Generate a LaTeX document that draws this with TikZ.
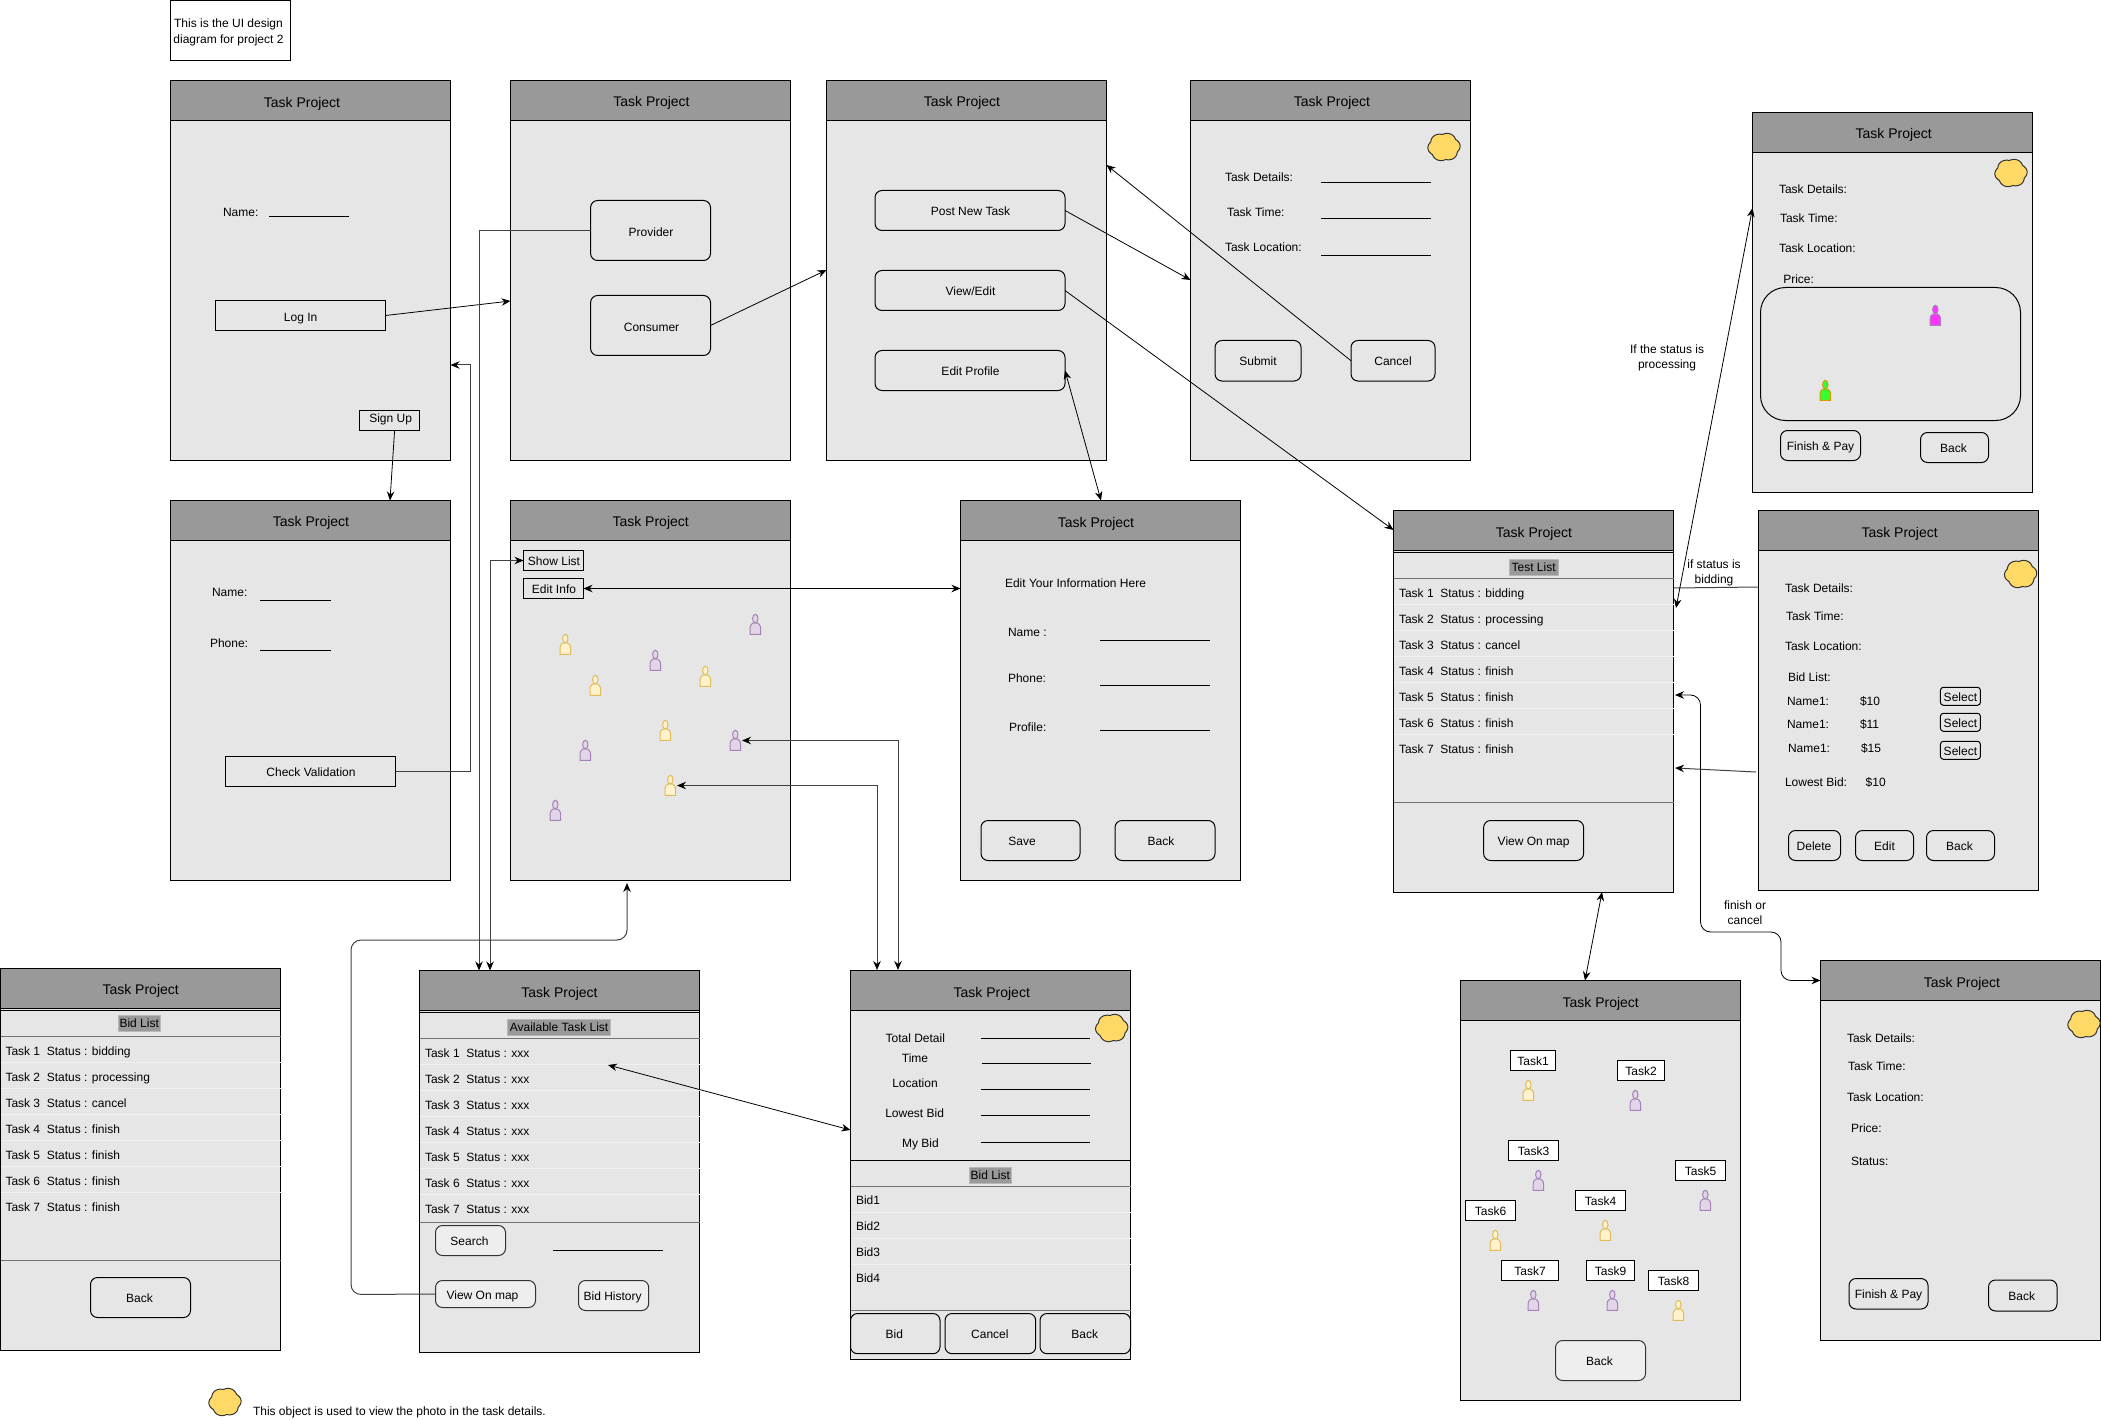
\documentclass[tikz,border=0pt]{standalone}
\usepackage{fontspec}
\setmainfont{Liberation Sans}
\usetikzlibrary{arrows.meta}
\definecolor{bodyc}{HTML}{E6E6E6}
\definecolor{headc}{HTML}{999999}
\definecolor{btnlt}{HTML}{EEEEEE}
\definecolor{cloudc}{HTML}{FFD966}
\definecolor{yfill}{HTML}{FFF2CC}
\definecolor{ydraw}{HTML}{E0BC5A}
\definecolor{pfill}{HTML}{E1D5E7}
\definecolor{pdraw}{HTML}{A583B8}
\definecolor{mfill}{HTML}{FF33FF}
\definecolor{gfill}{HTML}{33FF33}
\definecolor{odraw}{HTML}{D79B00}
\tikzset{
  txt/.style={inner sep=0pt,outer sep=0pt,text height=11.5pt,text depth=1.5pt,font=\fontsize{12pt}{15pt}\selectfont},
  ttl/.style={inner sep=0pt,outer sep=0pt,text height=12pt,text depth=2pt,font=\fontsize{14pt}{17pt}\selectfont},
  scrbody/.style={draw=black,fill=bodyc,line width=1pt,inner sep=0pt,outer sep=0pt},
  scrhead/.style={draw=black,fill=headc,line width=1pt,inner sep=0pt,outer sep=0pt},
  sq/.style={draw=black,line width=1pt,inner sep=0pt,outer sep=0pt,txt},
  whitebox/.style={sq,fill=white},
  rnd/.style={draw=black,line width=1pt,rounded corners=7pt,inner sep=0pt,outer sep=0pt,txt},
  rndlt/.style={rnd,fill=btnlt,draw=black!80},
  hl/.style={fill=headc,draw=headc!70!white,inner sep=0pt,outer sep=0pt,txt,text height=10pt},
  cld/.style={draw=black!80,fill=cloudc,line width=1pt},
  conn/.style={draw=black,line width=.8pt,>={Stealth[length=9pt,width=7.5pt,color=black,fill=black]}},
  ortho/.style={conn,draw=black!75,line width=1pt},
  sepl/.style={draw=bodyc!60!white,line width=.8pt},
  rowl/.style={draw=black!55,line width=1pt},
  uline/.style={draw=black,line width=.9pt}
}
\newcounter{tc}
\newcommand\bx[7]{\node[#2,minimum width={(#5)-(#3)},minimum height={(#6)-(#4)}] (#1) at ({((#3)+(#5))/2},{((#4)+(#6))/2}) {#7};}
\newcommand\scr[7]{%
  \bx{#1}{scrbody}{#2}{#3}{#4}{#5}{}
  \bx{#1-h}{scrhead}{#2}{#3}{#4}{(#3)+40}{}
  \node[ttl] (#1-t) at (#6,#7) {Task Project};}
\newcommand\lb[3]{\stepcounter{tc}\node[txt] (t\arabic{tc}) at (#1,#2) {#3};}
\newcommand\lw[3]{\stepcounter{tc}\node[txt,anchor=west] (t\arabic{tc}) at (#1,#2) {#3};}
\newcommand\ul[3]{\draw[uline] (#1,#3) -- (#2,#3);}
\newcommand\cloudn[3]{\coordinate (#1) at (#2,#3);
  \draw[cld,shift={(#2,#3)}] plot[domain=0:357,samples=120,smooth cycle,variable=\a] ({16*(.9+.11*abs(cos(3*\a+20)))*cos(\a)},{14*(.9+.11*abs(cos(3*\a+20)))*sin(\a)});}
\newcommand\person[5]{%
  \coordinate (#1) at (#2,#3);
  \begin{scope}[shift={(#2,#3)},fill=#4,draw=#5,line width=1pt]
    \filldraw (-5.3,20) -- (-5.3,14.5) .. controls (-5.3,10.5) and (-3.5,8.5) .. (0,8.5) .. controls (3.5,8.5) and (5.3,10.5) .. (5.3,14.5) -- (5.3,20) -- cycle;
    \filldraw (0,4.3) ellipse [x radius=2.7pt,y radius=4.3pt];
  \end{scope}}
\newcommand\py[3]{\person{#1}{#2}{#3}{yfill}{ydraw}}
\newcommand\pp[3]{\person{#1}{#2}{#3}{pfill}{pdraw}}
\begin{document}
\begin{tikzpicture}[x=1pt,y=-1pt]
\useasboundingbox (0,0) rectangle (2101,1420);
% note
\bx{note}{whitebox}{170.5}{0.5}{290.5}{60.5}{}
\node[inner sep=0pt,font=\fontsize{12pt}{15pt}\selectfont,align=center] (notetxt) at (228.5,32) {This is the UI design\\[1pt]diagram for project 2};
% screens
\scr{s1}{170.5}{80.5}{450.5}{460.5}{302}{103}
\scr{s2}{510.5}{80.5}{790.5}{460.5}{651.5}{102}
\scr{s3}{826.5}{80.5}{1106.5}{460.5}{962}{102}
\scr{s4}{1190.5}{80.5}{1470.5}{460.5}{1332}{102}
\scr{s5}{1752.5}{112.5}{2032.5}{492.5}{1893.7}{133.7}
\scr{s6}{170.5}{500.5}{450.5}{880.5}{311}{521.5}
\scr{s7}{510.5}{500.5}{790.5}{880.5}{650.7}{521.7}
\scr{s8}{960.5}{500.5}{1240.5}{880.5}{1096}{522.6}
\scr{s9}{1393.5}{510.5}{1673.5}{892}{1534}{532}
\scr{s10}{1758.5}{510.5}{2038.5}{890.5}{1899.6}{532}
\scr{s11}{1820.5}{960.5}{2100.5}{1340.5}{1962}{982}
\scr{s12}{1460.5}{980.5}{1740.5}{1400.5}{1600.7}{1002}
\scr{s13}{0.5}{968.5}{280.5}{1350}{140.7}{989}
\scr{s14}{419.5}{970.5}{699.5}{1352}{559.5}{992}
\scr{s15}{850.5}{970.5}{1130.5}{1359}{991.8}{992}
% S1
\lw{223}{212}{Name:}
\ul{268.6}{348.5}{216.5}
\bx{login}{sq}{215.6}{300.5}{385.6}{330.5}{\raisebox{-1.5pt}{Log In}}
\bx{signup}{sq,anchor=center}{359.5}{410.5}{419.7}{430.5}{\raisebox{3pt}{\hspace{2pt}Sign Up}}
% S2
\bx{provider}{rnd}{590.6}{200.5}{710.5}{260.5}{\raisebox{-1.5pt}{\hspace{1pt}Provider}}
\bx{consumer}{rnd}{590.6}{295.5}{710.5}{355.5}{\raisebox{-1.5pt}{\hspace{2pt}Consumer}}
% S3
\bx{post}{rnd}{875}{190.5}{1065}{230.5}{\hspace{1pt}Post New Task}
\bx{viewedit}{rnd}{875}{270.5}{1065}{310.5}{\hspace{1pt}View/Edit}
\bx{editprof}{rnd}{875}{350.5}{1065}{390.5}{\hspace{1pt}Edit Profile}
% S4
\lw{1225}{177}{Task Details:}
\lw{1227}{212}{Task Time:}
\lw{1225}{247}{Task Location:}
\ul{1321}{1431}{182}
\ul{1321}{1431}{218.5}
\ul{1321}{1431}{255}
\bx{submit}{rnd}{1215}{340.5}{1301}{381}{Submit}
\bx{cancel}{rnd}{1351}{340.5}{1435}{381}{Cancel}
\cloudn{cl1}{1444}{147}
% S5
\lw{1779}{188.7}{Task Details:}
\lw{1780}{217.7}{Task Time:}
\lw{1779}{247.3}{Task Location:}
\lw{1783.3}{278.7}{Price:}
\draw[line width=1pt,rounded corners=25pt] (1760.5,287.5) rectangle (2020.5,420.5);
\person{pm}{1935.3}{305.3}{mfill}{pdraw}
\person{pg}{1825.3}{380.3}{gfill}{odraw}
\bx{finish1}{rnd}{1780.5}{430.5}{1860.5}{460.5}{Finish \& Pay}
\bx{back5}{rnd}{1920.5}{432.5}{1988.5}{462.5}{\hspace{-2pt}Back}
\cloudn{cl2}{2011}{173}
% S6
\lw{212}{591}{Name:}
\ul{260}{331}{600.5}
\lw{210}{642}{Phone:}
\ul{260}{331}{650}
\bx{checkval}{sq}{225.5}{756.5}{395.5}{786.5}{\hspace{1pt}Check Validation}
% S7
\bx{showlist}{sq}{523.5}{550.5}{583.5}{570.5}{\hspace{1pt}Show List}
\bx{editinfo}{sq}{523.5}{578.5}{583.5}{598.5}{\hspace{1pt}Edit Info}
\pp{a1}{755.3}{614.3}\pp{a2}{655.3}{650.3}\pp{a3}{735.3}{730.3}\pp{a4}{585.3}{740.3}\pp{a5}{555.3}{800.3}
\py{b1}{565.3}{634.3}\py{b2}{595.3}{675.3}\py{b3}{705.3}{666.3}\py{b4}{665.3}{720.3}\py{b5}{670.3}{775.3}
% S8
\lw{1005}{582}{Edit Your Information Here}
\lw{1008}{631}{Name :}
\lw{1008}{677}{Phone:}
\lw{1009}{726}{Profile:}
\ul{1100}{1210}{640.5}
\ul{1100}{1210}{685}
\ul{1100}{1210}{730.5}
\bx{save}{rnd}{981}{820.5}{1080}{860.5}{\hspace{-17pt}Save}
\bx{back8}{rnd}{1115}{820.5}{1215}{860.5}{\hspace{-8pt}Back}
% S9
\draw[line width=1pt] (s9.west |- 0,552.5) -- (s9.east |- 0,552.5);
\draw[rowl] (s9.west |- 0,578.5) -- (s9.east |- 0,578.5);
\foreach \y in {604.5,630.5,656.5,682.5,708.5,734.5} \draw[sepl] (s9.west |- 0,\y) -- (s9.east |- 0,\y);
\draw[rowl] (s9.west |- 0,802.5) -- (s9.east |- 0,802.5);
\bx{h9}{hl}{1509.5}{559.3}{1557.7}{574.7}{Test List}
\lw{1399}{592}{Task 1\ \ Status : bidding}
\lw{1399}{618}{Task 2\ \ Status : processing}
\lw{1399}{644}{Task 3\ \ Status : cancel}
\lw{1399}{670}{Task 4\ \ Status : finish}
\lw{1399}{696}{Task 5\ \ Status : finish}
\lw{1399}{722}{Task 6\ \ Status : finish}
\lw{1399}{748}{Task 7\ \ Status : finish}
\bx{viewmap9}{rnd}{1483.6}{820.5}{1583.6}{860.5}{View On map}
% S10
\lw{1785}{587}{Task Details:}
\lw{1786}{615.7}{Task Time:}
\lw{1785}{645.7}{Task Location:}
\lw{1788}{676.7}{Bid List:}
\lw{1787}{700.7}{Name1:}\lw{1860}{700.7}{\$10}
\lw{1787}{723.7}{Name1:}\lw{1860}{723.7}{\$11}
\lw{1788}{747.7}{Name1:}\lw{1861}{747.7}{\$15}
\bx{sel1}{rnd,rounded corners=3pt}{1940.4}{687.3}{1980.4}{705.3}{Select}
\bx{sel2}{rnd,rounded corners=3pt}{1940.4}{713.3}{1980.4}{731.3}{Select}
\bx{sel3}{rnd,rounded corners=3pt}{1940.4}{741.3}{1980.4}{759.3}{Select}
\lw{1785}{781.7}{Lowest Bid:}\lw{1865.7}{781.7}{\$10}
\bx{del}{rnd}{1788.5}{830.5}{1840.5}{860.5}{\hspace{-1pt}Delete}
\bx{edit}{rnd}{1855.5}{830.5}{1913.5}{860.5}{Edit}
\bx{back10}{rnd}{1926.5}{830.5}{1994.5}{860.5}{\hspace{-2pt}Back}
\cloudn{cl3}{2020.6}{574}
% S11
\lw{1847}{1037}{Task Details:}
\lw{1848}{1065.5}{Task Time:}
\lw{1847}{1096}{Task Location:}
\lw{1851}{1127}{Price:}
\lw{1851}{1160}{Status:}
\bx{finish2}{rnd}{1849}{1278.5}{1928}{1309}{Finish \& Pay}
\bx{back11}{rnd}{1988.5}{1280}{2057}{1311}{\hspace{-2pt}Back}
\cloudn{cl4}{2084}{1024}
% S12
\bx{k1}{whitebox}{1510.5}{1050.5}{1555.5}{1070.5}{Task1}
\bx{k2}{whitebox}{1617.5}{1060.5}{1664.5}{1080.5}{Task2}
\bx{k3}{whitebox}{1508.5}{1140.5}{1558.5}{1160.5}{Task3}
\bx{k5}{whitebox}{1675.5}{1160.5}{1725.5}{1180.5}{Task5}
\bx{k4}{whitebox}{1575.5}{1190.5}{1625.5}{1210.5}{Task4}
\bx{k6}{whitebox}{1465.5}{1200.5}{1515.5}{1220.5}{Task6}
\bx{k7}{whitebox}{1501.5}{1260.5}{1558.5}{1280.5}{Task7}
\bx{k9}{whitebox}{1586.5}{1260.5}{1634.5}{1280.5}{Task9}
\bx{k8}{whitebox}{1648.5}{1270.5}{1698.5}{1290.5}{Task8}
\py{c1}{1528.3}{1080.3}\pp{c2}{1635.3}{1090.3}\pp{c3}{1538.3}{1170.3}\pp{c5}{1705.3}{1190.3}\py{c4}{1605.3}{1220.3}
\py{c6}{1495.3}{1230.3}\pp{c7}{1533.3}{1290.3}\pp{c9}{1612.3}{1290.3}\py{c8}{1678.3}{1300.3}
\bx{back12}{rndlt}{1555.5}{1340.5}{1645.5}{1380.5}{\hspace{-2pt}Back}
% S13
\draw[line width=1pt] (s13.west |- 0,1010.5) -- (s13.east |- 0,1010.5);
\draw[rowl] (s13.west |- 0,1036.5) -- (s13.east |- 0,1036.5);
\foreach \y in {1062.5,1088.5,1114.5,1140.5,1166.5,1192.5} \draw[sepl] (s13.west |- 0,\y) -- (s13.east |- 0,\y);
\draw[rowl] (s13.west |- 0,1260.5) -- (s13.east |- 0,1260.5);
\bx{h13}{hl}{118.5}{1015.5}{160}{1031}{Bid List}
\lw{5.5}{1050}{Task 1\ \ Status : bidding}
\lw{5.5}{1076}{Task 2\ \ Status : processing}
\lw{5.5}{1102}{Task 3\ \ Status : cancel}
\lw{5.5}{1128}{Task 4\ \ Status : finish}
\lw{5.5}{1154}{Task 5\ \ Status : finish}
\lw{5.5}{1180}{Task 6\ \ Status : finish}
\lw{5.5}{1206}{Task 7\ \ Status : finish}
\bx{back13}{rnd}{90.5}{1277.5}{190.5}{1317.5}{\hspace{-2pt}Back}
% S14
\draw[line width=1pt] (s14.west |- 0,1012.5) -- (s14.east |- 0,1012.5);
\draw[rowl] (s14.west |- 0,1038.5) -- (s14.east |- 0,1038.5);
\foreach \y in {1064.5,1090.5,1116.5,1142.5,1168.5,1194.5} \draw[sepl] (s14.west |- 0,\y) -- (s14.east |- 0,\y);
\draw[rowl] (s14.west |- 0,1222.5) -- (s14.east |- 0,1222.5);
\bx{h14}{hl}{507.6}{1019.3}{610.5}{1034.7}{Available Task List}
\foreach \i in {1,...,7} {\node[txt,anchor=west] (r14-\i) at (425,{1052+26*(\i-1)}) {Task \i\ \ Status : xxx};}
\bx{search}{rndlt}{435.5}{1225.5}{505.5}{1255.5}{\hspace{-2pt}Search}
\ul{553.4}{662.9}{1250.5}
\bx{viewmap14}{rndlt}{435.5}{1280.5}{535.5}{1307.5}{\hspace{-6pt}View On map}
\bx{bidhist}{rndlt}{578.5}{1280.5}{648.7}{1310.5}{\hspace{-2pt}Bid History}
% S15
\lb{915.3}{1037}{Total Detail}
\lb{915}{1057}{Time}
\lb{915}{1082}{Location}
\lb{914.6}{1112}{Lowest Bid}
\lb{920.5}{1142}{My Bid}
\ul{980.5}{1090.4}{1038}
\ul{981.5}{1091.4}{1063}
\ul{980.5}{1090.4}{1089}
\ul{980.5}{1090.4}{1115}
\ul{980.5}{1090.4}{1142.5}
\draw[line width=1pt] (s15.west |- 0,1160.5) -- (s15.east |- 0,1160.5);
\draw[rowl] (s15.west |- 0,1186.5) -- (s15.east |- 0,1186.5);
\foreach \y in {1212.5,1238.5,1264.5} \draw[sepl] (s15.west |- 0,\y) -- (s15.east |- 0,\y);
\draw[rowl] (s15.west |- 0,1310.5) -- (s15.east |- 0,1310.5);
\bx{h15}{hl}{969}{1167.3}{1011.6}{1182.7}{Bid List}
\lw{856}{1199.7}{Bid1}
\lw{856}{1225.7}{Bid2}
\lw{856}{1251.7}{Bid3}
\lw{856}{1277.7}{Bid4}
\bx{bid}{rnd}{850.5}{1313.5}{940}{1353.7}{\hspace{-2pt}Bid}
\bx{cancel15}{rnd}{945}{1313.5}{1035.7}{1353.7}{\hspace{-1pt}Cancel}
\bx{back15}{rnd}{1040}{1313.5}{1130.5}{1353.7}{\hspace{-1pt}Back}
\cloudn{cl5}{1111.7}{1028}
% legend
\cloudn{cl6}{225}{1402}
\lw{253}{1410}{This object is used to view the photo in the task details.}
% connector labels
\node[inner sep=0pt,font=\fontsize{12pt}{15pt}\selectfont,align=center] (l1) at (1667,358) {If the status is\\processing};
\node[inner sep=0pt,font=\fontsize{12pt}{15pt}\selectfont,align=center] (l2) at (1714,572.5) {if status is\\bidding};
\node[inner sep=0pt,font=\fontsize{12pt}{15pt}\selectfont,align=center] (l3) at (1745,913) {finish or\\cancel};
% connector ends on screen edges
\coordinate (e-s2l) at (510.5,301);
\coordinate (e-s3l) at (826.5,270);
\coordinate (e-s6t) at (390,500.5);
\coordinate (e-s1r) at (450.5,365);
\coordinate (e-s14a) at (479,970.5);
\coordinate (e-s14b) at (490,970.5);
\coordinate (e-s15a) at (877,970);
\coordinate (e-s15b) at (898,970);
\coordinate (e-s8l) at (960.5,588.5);
\coordinate (e-s4l) at (1190.5,280);
\coordinate (e-s9l) at (1393.5,530);
\coordinate (e-s8t) at (1101,500.5);
\coordinate (e-s3r) at (1106.5,165);
\coordinate (e-s7b) at (627,883);
\coordinate (e-r14) at (608,1065);
\coordinate (e-s15l) at (850.5,1130);
\coordinate (e-s10a) at (1758.5,587);
\coordinate (e-s9a) at (1673.5,588);
\coordinate (e-s5l) at (1752.5,208);
\coordinate (e-s9b) at (1676,608);
\coordinate (e-s10b) at (1756,772);
\coordinate (e-s9c) at (1675,768);
\coordinate (e-s9d) at (1675,695);
\coordinate (e-s11l) at (1820.5,980.5);
\coordinate (e-s9bot) at (1602,892);
\coordinate (e-s12t) at (1585,980.5);
\coordinate (e-a3) at (742,740.5);
\coordinate (e-b5) at (677,785.5);
% connectors
\draw[conn,->] (login.east) -- (e-s2l);
\draw[conn,->] (consumer.east) -- (e-s3l);
\draw[conn,->] ([xshift=5pt]signup.south) -- (e-s6t);
\draw[ortho,->] (provider.west) -| (e-s14a);
\draw[ortho,->] (checkval.east) -- (470.5,771.5) |- (e-s1r);
\draw[ortho,<->] (e-s14b) |- (showlist.west);
\draw[conn,<->] (editinfo.east) -- (e-s8l);
\draw[ortho,<->] (e-a3) -| (e-s15b);
\draw[ortho,<->] (e-b5) -| (e-s15a);
\draw[conn,->] (post.east) -- (e-s4l);
\draw[conn,->] (viewedit.east) -- (e-s9l);
\draw[conn,<->] (editprof.east) -- (e-s8t);
\draw[conn,->] (cancel.west) -- (e-s3r);
\draw[ortho,->,rounded corners=10pt] (viewmap14.west) -- (351,1294.5) -- (351,940) -- (627,940) -- (e-s7b);
\draw[conn,<->] (e-r14) -- (e-s15l);
\draw[ortho] (e-s10a) -- (e-s9a);
\draw[conn,<->] (e-s5l) -- (e-s9b);
\draw[ortho,->] (e-s10b) -- (e-s9c);
\draw[conn,<->,rounded corners=10pt] (e-s9d) -- (1700.5,695) -- (1700.5,932) -- (1781,932) -- (1781,980.5) -- (e-s11l);
\draw[conn,<->] (e-s9bot) -- (e-s12t);
\end{tikzpicture}
\end{document}
